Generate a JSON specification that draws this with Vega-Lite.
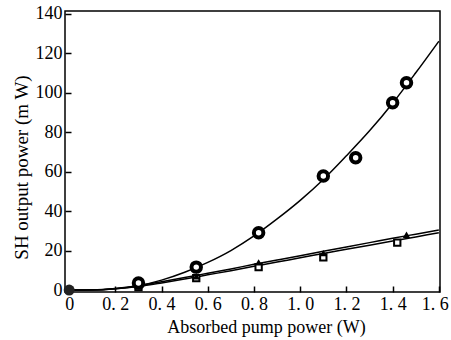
{
  "$schema": "https://vega.github.io/schema/vega-lite/v6.json",
  "width": 375,
  "height": 281,
  "autosize": {"type": "none"},
  "padding": {"left": 65, "top": 11, "right": 11, "bottom": 48},
  "background": "white",
  "config": {
    "view": {"stroke": "black", "strokeWidth": 1.5},
    "font": "Liberation Serif",
    "axis": {
      "domain": false, "grid": false, "tickColor": "black", "tickSize": -6, "tickWidth": 1.5,
      "labelColor": "black", "labelFont": "Liberation Serif", "labelFontSize": 18,
      "titleColor": "black", "titleFont": "Liberation Serif", "titleFontSize": 18, "titleFontWeight": "normal"
    }
  },
  "data": {"values": [
    {"s": "circle", "t": "curve", "x": 0, "y": 0},
    {"s": "circle", "t": "curve", "x": 0.1, "y": 0},
    {"s": "circle", "t": "curve", "x": 0.2, "y": 0.6},
    {"s": "circle", "t": "curve", "x": 0.3, "y": 2.2},
    {"s": "circle", "t": "curve", "x": 0.4, "y": 5},
    {"s": "circle", "t": "curve", "x": 0.5, "y": 9},
    {"s": "circle", "t": "curve", "x": 0.6, "y": 14},
    {"s": "circle", "t": "curve", "x": 0.7, "y": 20},
    {"s": "circle", "t": "curve", "x": 0.8, "y": 27.4},
    {"s": "circle", "t": "curve", "x": 0.9, "y": 36},
    {"s": "circle", "t": "curve", "x": 1.0, "y": 45.4},
    {"s": "circle", "t": "curve", "x": 1.1, "y": 56},
    {"s": "circle", "t": "curve", "x": 1.2, "y": 68},
    {"s": "circle", "t": "curve", "x": 1.3, "y": 80.6},
    {"s": "circle", "t": "curve", "x": 1.4, "y": 94.6},
    {"s": "circle", "t": "curve", "x": 1.5, "y": 110},
    {"s": "circle", "t": "curve", "x": 1.6, "y": 126},
    {"s": "tri", "t": "curve", "x": 0, "y": 0},
    {"s": "tri", "t": "curve", "x": 0.1, "y": 0.1},
    {"s": "tri", "t": "curve", "x": 0.2, "y": 0.8},
    {"s": "tri", "t": "curve", "x": 0.3, "y": 2.2},
    {"s": "tri", "t": "curve", "x": 0.4, "y": 4.2},
    {"s": "tri", "t": "curve", "x": 0.5, "y": 6.3},
    {"s": "tri", "t": "curve", "x": 0.6, "y": 8.5},
    {"s": "tri", "t": "curve", "x": 0.7, "y": 10.7},
    {"s": "tri", "t": "curve", "x": 0.8, "y": 13},
    {"s": "tri", "t": "curve", "x": 0.9, "y": 15.2},
    {"s": "tri", "t": "curve", "x": 1.0, "y": 17.4},
    {"s": "tri", "t": "curve", "x": 1.1, "y": 19.6},
    {"s": "tri", "t": "curve", "x": 1.2, "y": 21.8},
    {"s": "tri", "t": "curve", "x": 1.3, "y": 24},
    {"s": "tri", "t": "curve", "x": 1.4, "y": 26.2},
    {"s": "tri", "t": "curve", "x": 1.5, "y": 28.3},
    {"s": "tri", "t": "curve", "x": 1.6, "y": 30.4},
    {"s": "sq", "t": "curve", "x": 0, "y": 0},
    {"s": "sq", "t": "curve", "x": 0.1, "y": 0},
    {"s": "sq", "t": "curve", "x": 0.2, "y": 0.6},
    {"s": "sq", "t": "curve", "x": 0.3, "y": 1.8},
    {"s": "sq", "t": "curve", "x": 0.4, "y": 3.6},
    {"s": "sq", "t": "curve", "x": 0.5, "y": 5.6},
    {"s": "sq", "t": "curve", "x": 0.6, "y": 7.7},
    {"s": "sq", "t": "curve", "x": 0.7, "y": 9.8},
    {"s": "sq", "t": "curve", "x": 0.8, "y": 12},
    {"s": "sq", "t": "curve", "x": 0.9, "y": 14.2},
    {"s": "sq", "t": "curve", "x": 1.0, "y": 16.3},
    {"s": "sq", "t": "curve", "x": 1.1, "y": 18.5},
    {"s": "sq", "t": "curve", "x": 1.2, "y": 20.6},
    {"s": "sq", "t": "curve", "x": 1.3, "y": 22.7},
    {"s": "sq", "t": "curve", "x": 1.4, "y": 24.8},
    {"s": "sq", "t": "curve", "x": 1.5, "y": 26.9},
    {"s": "sq", "t": "curve", "x": 1.6, "y": 29},
    {"s": "circle", "t": "point", "x": 0.3, "y": 3.5},
    {"s": "circle", "t": "point", "x": 0.55, "y": 11.6},
    {"s": "circle", "t": "point", "x": 0.82, "y": 29},
    {"s": "circle", "t": "point", "x": 1.1, "y": 57.7},
    {"s": "circle", "t": "point", "x": 1.24, "y": 67},
    {"s": "circle", "t": "point", "x": 1.4, "y": 94.8},
    {"s": "circle", "t": "point", "x": 1.46, "y": 105},
    {"s": "tri", "t": "point", "x": 0.3, "y": 2},
    {"s": "tri", "t": "point", "x": 0.55, "y": 7},
    {"s": "tri", "t": "point", "x": 0.82, "y": 14},
    {"s": "tri", "t": "point", "x": 1.1, "y": 18.7},
    {"s": "tri", "t": "point", "x": 1.46, "y": 28},
    {"s": "sq", "t": "point", "x": 0.3, "y": 1.5},
    {"s": "sq", "t": "point", "x": 0.55, "y": 6},
    {"s": "sq", "t": "point", "x": 0.82, "y": 11.6},
    {"s": "sq", "t": "point", "x": 1.1, "y": 16.5},
    {"s": "sq", "t": "point", "x": 1.42, "y": 24},
    {"s": "origin", "t": "point", "x": 0, "y": 0}
  ]},
  "encoding": {
    "x": {"field": "x", "type": "quantitative",
      "scale": {"domain": [-0.018, 1.605], "nice": false, "zero": false},
      "axis": {"values": [0, 0.2, 0.4, 0.6, 0.8, 1.0, 1.2, 1.4, 1.6], "labelPadding": 9,
        "labelOffset": {"condition": {"test": "datum.value >= 1.59", "value": -4}, "value": 0},
        "labelExpr": "datum.value == 0 ? '0' : replace(format(datum.value, '.1f'), '.', '. ')",
        "title": "Absorbed pump power (W)", "titleX": 201, "titleY": 40, "titleBaseline": "alphabetic", "titleAnchor": null}},
    "y": {"field": "y", "type": "quantitative",
      "scale": {"domain": [-1, 141.3], "nice": false, "zero": false},
      "axis": {"values": [0, 20, 40, 60, 80, 100, 120, 140], "labelPadding": 9,
        "title": "SH output power (m W)", "titleFontSize": 19, "titleX": -38, "titleY": 156, "titleAngle": -90, "titleBaseline": "alphabetic", "titleAlign": "center"}}
  },
  "layer": [
    {"transform": [{"filter": "datum.t == 'curve'"}],
     "mark": {"type": "line", "color": "black", "strokeWidth": 1.5, "interpolate": "monotone"},
     "encoding": {"detail": {"field": "s"}}},
    {"transform": [{"filter": "datum.s == 'origin'"}],
     "mark": {"type": "point", "shape": "circle", "filled": true, "fill": "#222", "opacity": 1, "size": 120}},
    {"transform": [{"filter": "datum.t == 'point' && datum.s == 'sq'"}],
     "mark": {"type": "point", "shape": "square", "filled": true, "fill": "white", "stroke": "black", "opacity": 1, "strokeWidth": 2, "size": 40}},
    {"transform": [{"filter": "datum.t == 'point' && datum.s == 'tri'"}],
     "mark": {"type": "point", "shape": "triangle-up", "filled": true, "fill": "black", "opacity": 1, "size": 55}},
    {"transform": [{"filter": "datum.t == 'point' && datum.s == 'circle'"}],
     "mark": {"type": "point", "shape": "circle", "filled": true, "fill": "white", "stroke": "black", "opacity": 1, "strokeWidth": 4, "size": 90}}
  ]
}
